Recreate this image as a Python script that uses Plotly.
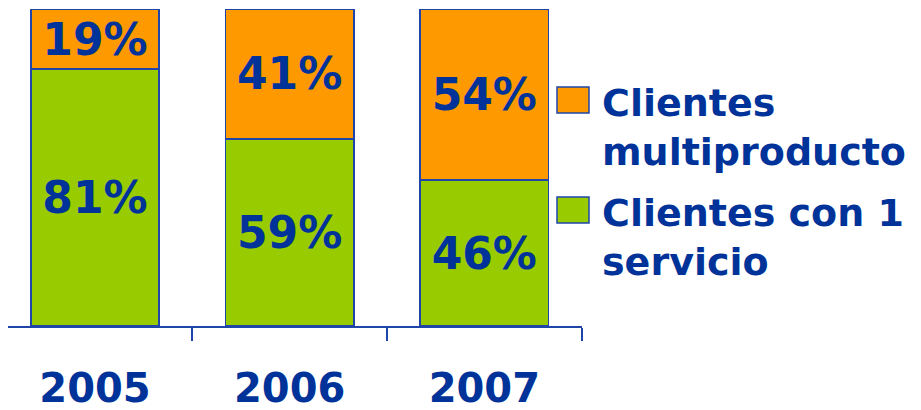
import plotly.graph_objects as go

years = ["2005", "2006", "2007"]
one_service = [81, 59, 46]
multiproduct = [19, 41, 54]
series_names = ["Clientes<br>multiproducto", "Clientes con 1<br>servicio"]

GREEN = "#99CC00"
ORANGE = "#FF9900"
NAVY = "#003399"
EDGE = "#1F45A8"
FONT = "DejaVu Sans"

fig = go.Figure()
for values, color in [(one_service, GREEN), (multiproduct, ORANGE)]:
    fig.add_trace(
        go.Bar(
            x=years,
            y=values,
            marker=dict(color=color, line=dict(color=EDGE, width=1.5)),
            width=0.66,
            text=[f"{v}%" for v in values],
            textposition="inside",
            insidetextanchor="middle",
            textangle=0,
            constraintext="none",
            textfont=dict(family=FONT, size=44, color=NAVY, weight="bold"),
            showlegend=False,
        )
    )

# the page body adds an 8px margin, so the figure is 8px smaller than the window
OFF = 8
W, H = 921 - OFF, 410 - OFF
L, T, B = 0, 1, 84
pw, ph = W - L, H - T - B


def px(sx):
    return (sx - OFF - L) / pw


def py(sy):
    return (T + ph - (sy - OFF)) / ph


# hand-made legend, big squares as in the reference
for i, (name, color) in enumerate(zip(series_names, [ORANGE, GREEN])):
    top = 87 + i * 110
    fig.add_shape(
        type="rect", xref="paper", yref="paper",
        x0=px(557), x1=px(589), y0=py(top + 26), y1=py(top),
        fillcolor=color, line=dict(color=EDGE, width=1.5),
    )
    fig.add_annotation(
        xref="paper", yref="paper", x=px(600), y=py(top - 8),
        xanchor="left", yanchor="top", align="left", showarrow=False,
        text=name, font=dict(family=FONT, size=38, color=NAVY, weight="bold"),
    )

fig.update_layout(
    barmode="stack",
    width=W,
    height=H,
    margin=dict(l=L, r=0, t=T, b=B),
    plot_bgcolor="white",
    paper_bgcolor="white",
    showlegend=False,
    xaxis=dict(
        domain=[0, px(582)],
        range=[-0.447, 2.502],
        automargin=False,
        tickson="boundaries",
        ticks="outside",
        ticklen=13,
        tickwidth=1.5,
        tickcolor=EDGE,
        showline=True,
        linecolor=EDGE,
        linewidth=1.5,
        showgrid=False,
        ticklabelstandoff=26,
        tickfont=dict(family=FONT, size=40, color=NAVY, weight="bold"),
    ),
    yaxis=dict(range=[0, 100], visible=False, automargin=False),
)

fig.write_html("out.html")
